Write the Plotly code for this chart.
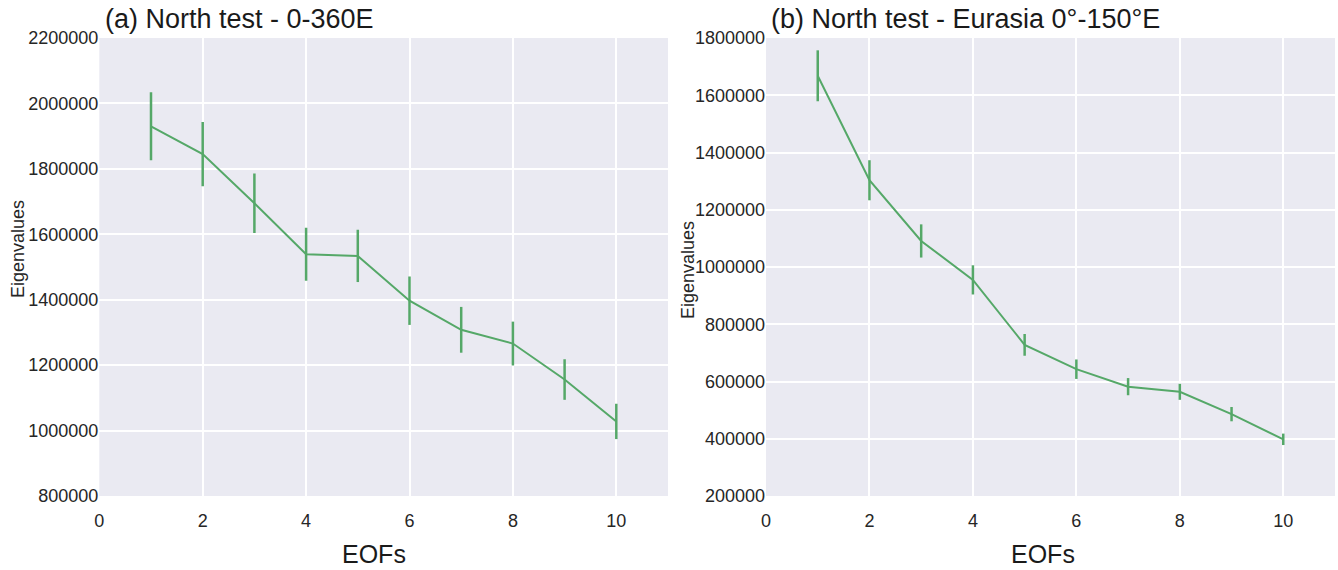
import plotly.graph_objects as go

# EOF index
eofs = [1, 2, 3, 4, 5, 6, 7, 8, 9, 10]

# (a) North test, 0-360E: eigenvalues and their uncertainty
eig_a = [1930000, 1845000, 1695000, 1539000, 1534000, 1397000, 1308000, 1266000, 1156000, 1028000]
err_a = [104000, 98000, 91000, 81000, 80000, 74000, 70000, 67000, 62000, 54000]

# (b) North test, Eurasia 0-150E
eig_b = [1668000, 1303000, 1091000, 955000, 728000, 643000, 582000, 564000, 486000, 398000]
err_b = [89000, 70000, 58000, 51000, 38000, 34000, 30000, 28000, 25000, 20000]

GREEN = "#55a868"
FONT = "Arial, Liberation Sans, sans-serif"
TXT = "#262626"

fig = go.Figure()

fig.add_trace(go.Scatter(
    x=eofs, y=eig_a, mode="lines", xaxis="x", yaxis="y",
    line=dict(color=GREEN, width=2),
    error_y=dict(type="data", array=err_a, color=GREEN, thickness=2.5, width=0),
    showlegend=False,
))
fig.add_trace(go.Scatter(
    x=eofs, y=eig_b, mode="lines", xaxis="x2", yaxis="y2",
    line=dict(color=GREEN, width=2),
    error_y=dict(type="data", array=err_b, color=GREEN, thickness=2.5, width=0),
    showlegend=False,
))

ydom = [74 / 570, 532 / 570]
xdom_a = [99.3 / 1338, 668 / 1338]
xdom_b = [766 / 1338, 1335 / 1338]

common_x = dict(range=[0, 11], tickvals=[0, 2, 4, 6, 8, 10], showgrid=True,
                gridcolor="white", gridwidth=1.5, zeroline=False, showline=False,
                ticks="", automargin=False, ticklabelstandoff=12,
                tickfont=dict(family=FONT, size=18, color=TXT))
common_y = dict(showgrid=True, gridcolor="white", gridwidth=1.5, zeroline=False,
                showline=False, ticks="", automargin=False, tickformat="d",
                tickfont=dict(family=FONT, size=18, color=TXT))

fig.update_layout(
    template="none",
    width=1338, height=570,
    margin=dict(l=0, r=0, t=0, b=0),
    paper_bgcolor="white",
    plot_bgcolor="#eaeaf2",
    xaxis=dict(domain=xdom_a, anchor="y", **common_x),
    yaxis=dict(domain=ydom, anchor="x", range=[800000, 2200000], dtick=200000, **common_y),
    xaxis2=dict(domain=xdom_b, anchor="y2", **common_x),
    yaxis2=dict(domain=ydom, anchor="x2", range=[200000, 1800000], dtick=200000, **common_y),
    annotations=[
        dict(text="(a) North test - 0-360E", x=103 / 1338, y=1 - 19 / 570, xref="paper", yref="paper",
             xanchor="left", yanchor="middle", showarrow=False,
             font=dict(family=FONT, size=27, color="#1a1a1a")),
        dict(text="(b) North test - Eurasia 0°-150°E", x=769 / 1338, y=1 - 19 / 570, xref="paper", yref="paper",
             xanchor="left", yanchor="middle", showarrow=False,
             font=dict(family=FONT, size=27, color="#1a1a1a")),
        dict(text="Eigenvalues", x=18 / 1338, y=1 - 249 / 570, xref="paper", yref="paper",
             xanchor="center", yanchor="middle", textangle=-90, showarrow=False,
             font=dict(family=FONT, size=18, color=TXT)),
        dict(text="Eigenvalues", x=688 / 1338, y=1 - 270 / 570, xref="paper", yref="paper",
             xanchor="center", yanchor="middle", textangle=-90, showarrow=False,
             font=dict(family=FONT, size=18, color=TXT)),
        dict(text="EOFs", x=374 / 1338, y=1 - 554 / 570, xref="paper", yref="paper",
             xanchor="center", yanchor="middle", showarrow=False,
             font=dict(family=FONT, size=25, color="#1a1a1a")),
        dict(text="EOFs", x=1043 / 1338, y=1 - 554 / 570, xref="paper", yref="paper",
             xanchor="center", yanchor="middle", showarrow=False,
             font=dict(family=FONT, size=25, color="#1a1a1a")),
    ],
)

fig.write_html("out.html")
